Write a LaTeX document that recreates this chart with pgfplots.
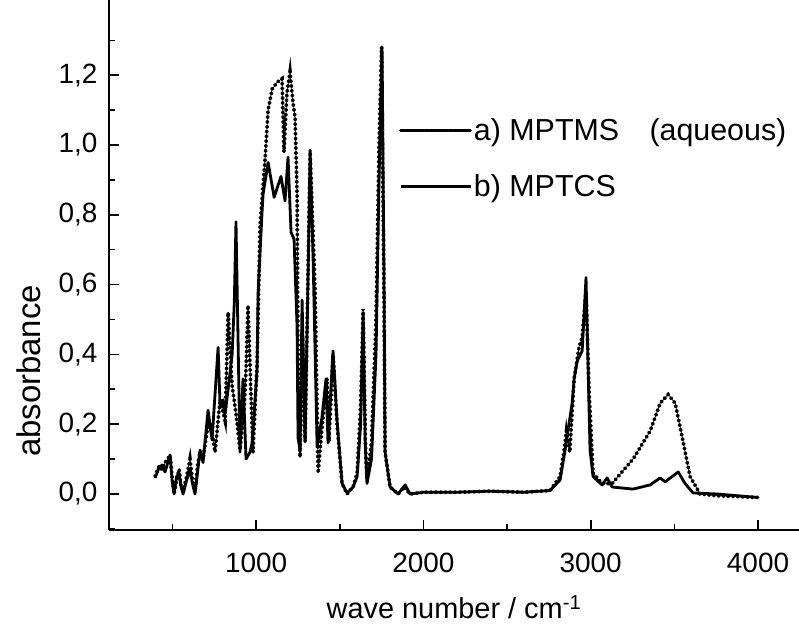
\documentclass[border=0pt]{standalone}
\usepackage{fontspec}
\setmainfont{Liberation Sans}
\usepackage{pgfplots}
\pgfplotsset{compat=1.18}
\begin{document}
\begin{tikzpicture}
\begin{axis}[
  scale only axis,
  width=690bp, height=530bp,
  xmin=121, xmax=4245,
  ymin=-0.1032, ymax=1.4155,
  axis x line=bottom, axis y line=left,
  axis line style={-, line width=2.2bp},
  tick align=inside,
  tick style={line width=1.6bp, black},
  major tick length=10bp, minor tick length=6bp,
  xtick={1000,2000,3000,4000},
  minor xtick={500,1500,2500,3500},
  ytick={0,0.2,0.4,0.6,0.8,1.0,1.2},
  minor ytick={-0.1,0.1,0.3,0.5,0.7,0.9,1.1,1.3},
  /pgf/number format/assume math mode=true,
  xticklabel style={/pgf/number format/1000 sep={}, font=\fontsize{28}{32}\selectfont, yshift=-20bp},
  yticklabel style={/pgf/number format/.cd, use comma, fixed, fixed zerofill, precision=1, /tikz/.cd, font=\fontsize{28}{32}\selectfont, xshift=-8bp},
  xlabel={wave number / cm\textsuperscript{-1}},
  ylabel={absorbance},
  xlabel style={at={(axis description cs:0.5,-0.146)}, anchor=center, font=\fontsize{29}{32}\selectfont},
  ylabel style={at={(axis description cs:-0.117,0.30)}, anchor=center, font=\fontsize{33}{36}\selectfont},
  legend style={draw=none, fill=none, at={(axis description cs:0.42,0.78)}, anchor=north west,
    font=\fontsize{30.5}{34}\selectfont, row sep=28bp, inner sep=0pt},
  legend cell align=left,
  clip=false,
]
% a) MPTMS (aqueous) -- dotted
\addplot[black, line width=3.6bp, line cap=round, dash pattern=on 1.2bp off 3.6bp,
  legend image code/.code={\draw[black, line width=2.8bp, dash pattern=on 4bp off 0.8bp] (0bp,0bp) -- (70bp,0bp);}] coordinates {
(396,0.05) (420,0.08) (438,0.07) (456,0.09) (486,0.11) (498,0.05) (510,0.0) (525,0.04)
(540,0.07) (552,0.02) (564,0.01) (585,0.05) (605,0.10) (620,0.04) (635,0.01) (650,0.08)
(665,0.12) (683,0.10) (713,0.20) (737,0.175) (755,0.12) (785,0.27) (815,0.21) (833,0.52)
(857,0.31) (880,0.23) (904,0.126) (930,0.25) (940,0.36) (952,0.54) (970,0.28) (982,0.12)
(1006,0.375) (1024,0.77) (1054,0.96) (1072,1.10) (1096,1.16) (1126,1.18) (1155,1.19)
(1167,0.98) (1185,1.15) (1203,1.21) (1221,1.12) (1233,1.08) (1245,0.86) (1251,0.38)
(1263,0.106) (1278,0.45) (1293,0.15) (1323,0.98) (1353,0.58) (1371,0.06) (1394,0.19)
(1424,0.33) (1436,0.15) (1460,0.40) (1484,0.20) (1514,0.03) (1544,0.0) (1580,0.02)
(1604,0.06) (1625,0.25) (1640,0.53) (1655,0.12) (1663,0.04) (1690,0.15) (1717,0.50)
(1735,1.00) (1750,1.28) (1765,0.55) (1771,0.12) (1801,0.02) (1849,0.0) (1885,0.02)
(1920,0.0) (2000,0.005) (2200,0.005) (2400,0.008) (2600,0.005) (2757,0.01) (2817,0.05)
(2840,0.12) (2855,0.18) (2875,0.12) (2901,0.33) (2930,0.42) (2949,0.45) (2972,0.58)
(2990,0.30) (3014,0.06) (3068,0.03) (3128,0.03) (3253,0.10) (3355,0.18) (3415,0.26)
(3463,0.285) (3505,0.26) (3546,0.165) (3594,0.05) (3654,0.0) (3755,-0.005) (4000,-0.01)
};
\addlegendentry{a) MPTMS\hspace{1em}(aqueous)}
% b) MPTCS -- solid
\addplot[black, line width=2.8bp, line join=round,
  legend image code/.code={\draw[black, line width=3bp] (0bp,0bp) -- (70bp,0bp);}] coordinates {
(396,0.046) (420,0.075) (438,0.083) (456,0.063) (486,0.112) (498,0.04) (510,0.0) (525,0.05)
(540,0.06) (552,0.02) (564,0.0) (585,0.04) (605,0.07) (620,0.03) (635,0.0) (650,0.06)
(665,0.126) (683,0.09) (713,0.24) (737,0.155) (773,0.42) (785,0.25) (803,0.27) (815,0.23)
(833,0.30) (857,0.40) (870,0.55) (880,0.78) (892,0.45) (904,0.12) (922,0.33) (940,0.10)
(964,0.12) (976,0.146) (1006,0.355) (1012,0.575) (1036,0.81) (1042,0.86) (1072,0.95)
(1108,0.85) (1149,0.91) (1173,0.84) (1191,0.965) (1209,0.75) (1227,0.73) (1245,0.48)
(1251,0.16) (1263,0.126) (1275,0.556) (1293,0.155) (1310,0.60) (1323,0.985) (1341,0.67)
(1365,0.135) (1394,0.22) (1418,0.33) (1430,0.146) (1460,0.41) (1484,0.21) (1514,0.03)
(1544,0.003) (1580,0.02) (1604,0.05) (1625,0.20) (1640,0.52) (1652,0.15) (1663,0.03)
(1690,0.10) (1717,0.40) (1735,0.90) (1753,1.28) (1765,0.60) (1771,0.12) (1801,0.02)
(1849,0.0) (1891,0.026) (1920,0.0) (2000,0.005) (2200,0.005) (2400,0.008) (2600,0.005)
(2757,0.01) (2817,0.04) (2847,0.126) (2889,0.26) (2901,0.33) (2919,0.38) (2949,0.41)
(2972,0.62) (2996,0.126) (3014,0.05) (3068,0.026) (3098,0.046) (3128,0.02) (3253,0.014)
(3355,0.026) (3415,0.046) (3445,0.035) (3523,0.063) (3564,0.03) (3612,0.003) (3755,0.0)
(4000,-0.01)
};
\addlegendentry{b) MPTCS}
\coordinate (BL) at ([xshift=-109bp, yshift=-97bp]rel axis cs:0,0);
\coordinate (TR) at (rel axis cs:1,1);
\end{axis}
\pgfresetboundingbox
\useasboundingbox (BL) rectangle (TR);
\end{tikzpicture}
\end{document}
